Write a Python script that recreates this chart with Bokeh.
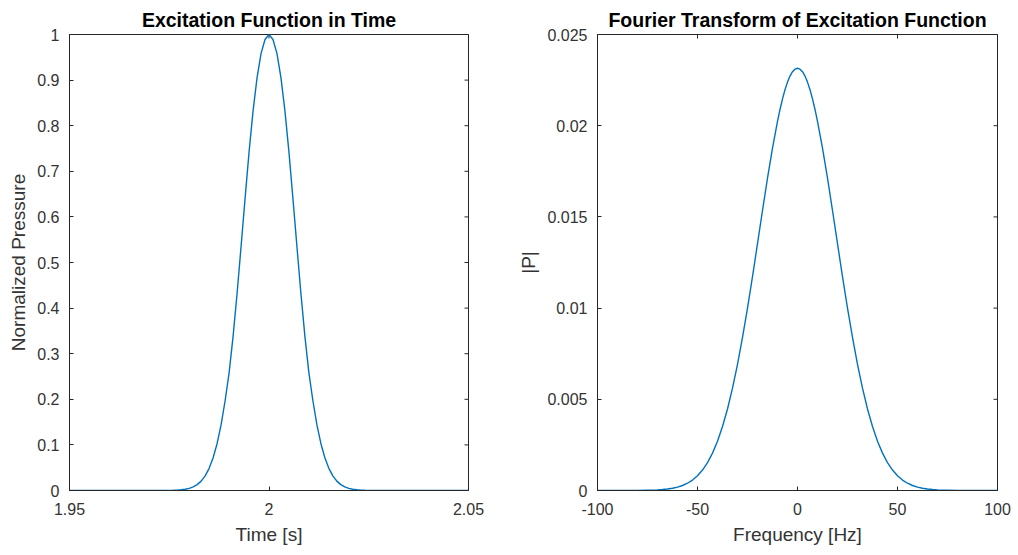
import math
from bokeh.plotting import figure
from bokeh.layouts import row
from bokeh.models import Range1d, FixedTicker, CustomJSTickFormatter
from bokeh.embed import file_html
from bokeh.resources import INLINE

# ---------------- data ----------------
time_s = [1.950, 1.975, 1.976, 1.977, 1.978, 1.979, 1.980, 1.981, 1.982, 1.983,
          1.984, 1.985, 1.986, 1.987, 1.988, 1.989, 1.990, 1.991, 1.992, 1.993,
          1.994, 1.995, 1.996, 1.997, 1.998, 1.999, 2.000, 2.001, 2.002, 2.003,
          2.004, 2.005, 2.006, 2.007, 2.008, 2.009, 2.010, 2.011, 2.012, 2.013,
          2.014, 2.015, 2.016, 2.017, 2.018, 2.019, 2.020, 2.021, 2.022, 2.023,
          2.024, 2.025, 2.050]
pressure = [0.0, 0.0002, 0.0004, 0.0008, 0.0015, 0.0027, 0.0046, 0.0078, 0.0129, 0.0206,
            0.0321, 0.0486, 0.0718, 0.1032, 0.1444, 0.1968, 0.258, 0.338, 0.432, 0.535,
            0.640, 0.742, 0.832, 0.905, 0.958, 0.989, 1.0, 0.989, 0.958, 0.905,
            0.832, 0.742, 0.640, 0.535, 0.432, 0.338, 0.258, 0.1968, 0.1444, 0.1032,
            0.0718, 0.0486, 0.0321, 0.0206, 0.0129, 0.0078, 0.0046, 0.0027, 0.0015, 0.0008,
            0.0004, 0.0002, 0.0]

freq_hz = [-100, -95, -90, -85, -80, -75, -72.5, -70, -67.5, -65, -62.5, -60, -57.5, -55,
           -52.5, -50, -47.5, -45, -42.5, -40, -37.5, -35, -32.5, -30, -27.5, -25, -22.5,
           -20, -17.5, -15, -12.5, -10, -8.75, -7.5, -6.25, -5, -3.75, -2.5, -1.25, 0,
           1.25, 2.5, 3.75, 5, 6.25, 7.5, 8.75, 10, 12.5, 15, 17.5,
           20, 22.5, 25, 27.5, 30, 32.5, 35, 37.5, 40, 42.5, 45, 47.5, 50, 52.5, 55, 57.5,
           60, 62.5, 65, 67.5, 70, 72.5, 75, 80, 85, 90, 95, 100]
magnitude = [0.0, 0.0, 0.0, 0.000001, 0.000004, 0.000012, 0.00002, 0.000032, 0.000051,
             0.00008, 0.000122, 0.000185, 0.000274, 0.000399, 0.000573, 0.000808, 0.00112,
             0.00153, 0.00205, 0.0027, 0.00351, 0.00447, 0.00561, 0.00692, 0.00839, 0.01,
             0.01173, 0.01353, 0.01535, 0.01712, 0.01877, 0.02024, 0.02089, 0.02147, 0.02197,
             0.02239, 0.02272, 0.02296, 0.0231, 0.02315,
             0.0231, 0.02296, 0.02272, 0.02239, 0.02197, 0.02147, 0.02089, 0.02024, 0.01877,
             0.01712, 0.01535, 0.01353, 0.01173,
             0.01, 0.00839, 0.00692, 0.00561, 0.00447, 0.00351, 0.0027, 0.00205, 0.00153,
             0.00112, 0.000808, 0.000573, 0.000399, 0.000274, 0.000185, 0.000122, 0.00008,
             0.000051, 0.000032, 0.00002, 0.000012, 0.000004, 0.000001, 0.0, 0.0, 0.0]

time_ticks = [1.95, 2.0, 2.05]
time_tick_labels = ["1.95", "2", "2.05"]
pressure_ticks = [0, 0.1, 0.2, 0.3, 0.4, 0.5, 0.6, 0.7, 0.8, 0.9, 1.0]
pressure_tick_labels = ["0", "0.1", "0.2", "0.3", "0.4", "0.5", "0.6", "0.7", "0.8", "0.9", "1"]
freq_ticks = [-100, -50, 0, 50, 100]
freq_tick_labels = ["-100", "-50", "0", "50", "100"]
mag_ticks = [0, 0.005, 0.01, 0.015, 0.02, 0.025]
mag_tick_labels = ["0", "0.005", "0.01", "0.015", "0.02", "0.025"]

FONT = "Liberation Sans"
TXT = "#333333"
AX = "#262626"
LINE = "#0072BD"


def fmt(ticks, labels):
    return CustomJSTickFormatter(
        args=dict(tv=ticks, tl=labels),
        code="""
        for (let i = 0; i < tv.length; i++) {
            if (Math.abs(tv[i] - tick) < 1e-9 * Math.max(1, Math.abs(tick))) return tl[i];
        }
        return '';
        """)


def make(title, xr, yr, xt, xl, yt, yl, xlabel, ylabel, border_left, border_right, ylab_standoff):
    p = figure(width=509, height=555, x_range=Range1d(*xr), y_range=Range1d(*yr),
               output_backend="svg", toolbar_location=None,
               min_border_left=border_left, min_border_right=border_right,
               min_border_top=34, min_border_bottom=65)
    p.title.text = title
    p.title.align = "center"
    p.title.text_font = FONT
    p.title.text_font_size = "19.5px"
    p.title.text_font_style = "bold"
    p.title.text_color = "#000000"
    p.title.standoff = 8
    p.xgrid.visible = False
    p.ygrid.visible = False
    p.outline_line_color = AX
    p.outline_line_width = 1
    p.background_fill_color = "white"
    p.border_fill_color = "white"

    for ax, ticks, labels, lab in ((p.xaxis[0], xt, xl, xlabel), (p.yaxis[0], yt, yl, ylabel)):
        ax.ticker = FixedTicker(ticks=ticks)
        ax.formatter = fmt(ticks, labels)
        ax.axis_label = lab
        ax.axis_label_text_font = FONT
        ax.axis_label_text_font_size = "19px"
        ax.axis_label_text_font_style = "normal"
        ax.axis_label_text_color = TXT
        ax.major_label_text_font = FONT
        ax.major_label_text_font_size = "16px"
        ax.major_label_text_color = TXT
        ax.major_tick_in = 4
        ax.major_tick_out = 0
        ax.major_tick_line_color = AX
        ax.minor_tick_line_color = None
        ax.axis_line_color = AX
    p.xaxis[0].major_label_standoff = 12
    p.xaxis[0].axis_label_standoff = 6
    p.yaxis[0].major_label_standoff = 10
    p.yaxis[0].axis_label_standoff = ylab_standoff

    # inward ticks on the top and right edges of the box (clipped to the frame)
    p.scatter(x=xt, y=[yr[1]] * len(xt), marker="dash", size=8, angle=math.pi / 2,
              line_color=AX, line_width=1)
    p.scatter(x=[xr[1]] * len(yt), y=yt, marker="dash", size=8, angle=0,
              line_color=AX, line_width=1)
    return p


p1 = make("Excitation Function in Time", (1.95, 2.05), (0, 1),
          time_ticks, time_tick_labels, pressure_ticks, pressure_tick_labels,
          "Time [s]", "Normalized Pressure", 69, 41, 5)
p1.line(time_s, pressure, line_color=LINE, line_width=1.4, line_join="round")

p2 = make("Fourier Transform of Excitation Function", (-100, 100), (0, 0.025),
          freq_ticks, freq_tick_labels, mag_ticks, mag_tick_labels,
          "Frequency [Hz]", "|P|", 88, 21, 5)
p2.line(freq_hz, magnitude, line_color=LINE, line_width=1.4, line_join="round")

layout = row(p1, p2)
open("out.html", "w").write(file_html(layout, INLINE))
